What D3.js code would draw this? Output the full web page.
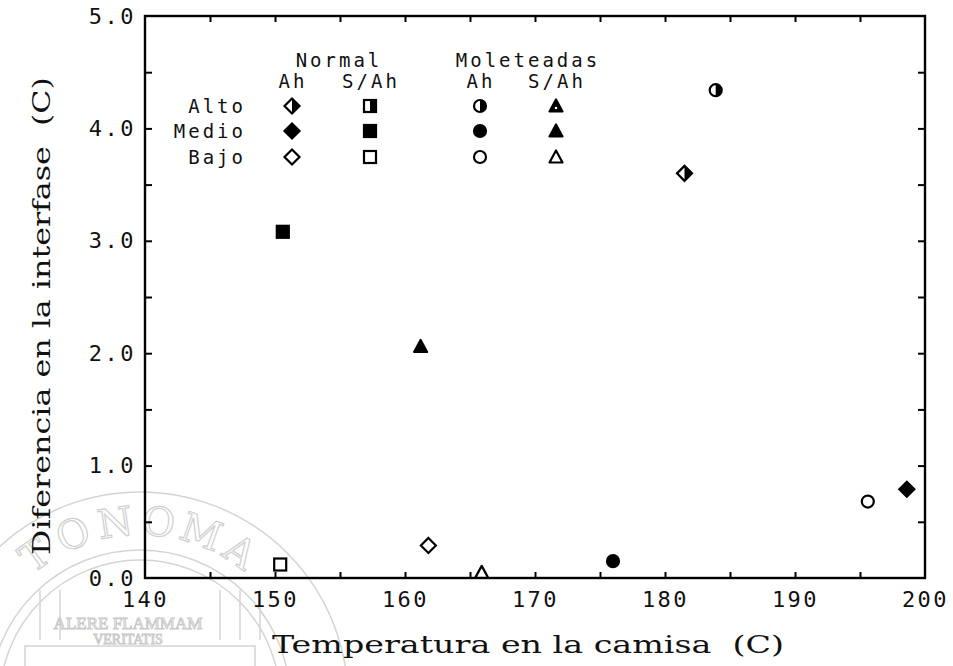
<!DOCTYPE html>
<html><head><meta charset="utf-8">
<script src="https://cdn.jsdelivr.net/npm/d3@7"></script>
<style>body{margin:0;background:#fff}</style></head>
<body><svg id="c" width="953" height="666"></svg>
<script>
// ---------- data ----------
const xLabelTicks = [140, 150, 160, 170, 180, 190, 200];
const xFrameTicks = [145, 150, 155, 160, 165, 170, 175, 180, 185, 190, 195];
const yLabelTicks = [0, 1, 2, 3, 4, 5];
const yFrameTicks = [0.5, 1, 1.5, 2, 2.5, 3, 3.5, 4, 4.5];
const groups = ["Normal", "Moleteadas"];
const subgroups = ["Ah", "S/Ah", "Ah", "S/Ah"];
const columns = ["Normal Ah", "Normal S/Ah", "Moleteadas Ah", "Moleteadas S/Ah"];
const levels = ["Alto", "Medio", "Bajo"];
const pointColumn = ["Normal S/Ah", "Moleteadas S/Ah", "Normal Ah", "Normal S/Ah", "Moleteadas S/Ah", "Moleteadas Ah", "Normal Ah", "Moleteadas Ah", "Moleteadas Ah", "Normal Ah", "Moleteadas Ah"];
const pointLevel  = ["Medio", "Medio", "Bajo", "Bajo", "Bajo", "Medio", "Alto", "Alto", "Bajo", "Medio", "Bajo"];
const pointX = [150.6, 161.2, 161.8, 150.4, 165.9, 176.0, 181.5, 183.9, 195.6, 198.6, 200.55];
const pointY = [3.08, 2.06, 0.29, 0.12, 0.05, 0.15, 3.60, 4.34, 0.68, 0.79, 0.74];
const xTitle = "Temperatura en la camisa  (C)";
const yTitle = "Diferencia en la interfase  (C)";

// ---------- layout ----------
const svg = d3.select("#c");
const L = 145, R = 925, T = 16, B = 578;
const x = d3.scaleLinear().domain([140, 200]).range([L, R]);
const y = d3.scaleLinear().domain([0, 5]).range([B, T]);
const shapeOf = d3.scaleOrdinal().domain(columns).range(["diamond", "square", "circle", "triangle"]);
const fillOf = d3.scaleOrdinal().domain(levels).range(["half", "full", "open"]);

// ---------- watermark ----------
const wm = svg.append("g").attr("fill", "none").attr("stroke", "#d4d4d4").attr("stroke-width", 1.5);
const cx0 = 140, cy0 = 700;
wm.append("circle").attr("cx", cx0).attr("cy", cy0).attr("r", 208);
wm.append("circle").attr("cx", cx0).attr("cy", cy0).attr("r", 150);
wm.append("circle").attr("cx", cx0).attr("cy", cy0).attr("r", 140);
[-100, -80, 80, 100, 120].forEach(dx => wm.append("line").attr("x1", cx0 + dx).attr("x2", cx0 + dx)
  .attr("y1", 590).attr("y2", 640));
wm.append("rect").attr("x", 25).attr("y", 646).attr("width", 230).attr("height", 36);
const arcText = "TONOMA";
const arcAngles = [-36, -22, -8, 6, 20, 34];
arcText.split("").forEach((ch, i) => {
  const a = arcAngles[i] * Math.PI / 180;
  const px = cx0 + 175 * Math.sin(a), py = cy0 - 175 * Math.cos(a);
  svg.append("text").attr("x", px).attr("y", py)
    .attr("transform", `rotate(${arcAngles[i]},${px},${py})`)
    .attr("text-anchor", "middle").attr("dominant-baseline", "middle")
    .attr("font-family", "DejaVu Serif").attr("font-size", 40).attr("fill", "none")
    .attr("stroke", "#cfcfcf").attr("stroke-width", 1.2).text(ch);
});
svg.append("text").attr("x", 128).attr("y", 629).attr("text-anchor", "middle")
  .attr("font-family", "Liberation Serif").attr("font-size", 17).attr("fill", "none")
  .attr("stroke", "#c8c8c8").attr("stroke-width", 1).text("ALERE FLAMMAM");
svg.append("text").attr("x", 128).attr("y", 644).attr("text-anchor", "middle")
  .attr("font-family", "Liberation Serif").attr("font-size", 14).attr("fill", "none")
  .attr("stroke", "#c8c8c8").attr("stroke-width", 1).text("VERITATIS");

// ---------- frame and ticks ----------
function frameAxis(g) { g.select(".domain").remove(); g.selectAll("line").attr("stroke", "#000").attr("stroke-width", 2); }
svg.append("g").attr("transform", `translate(0,${B})`)
  .call(d3.axisBottom(x).tickValues(xFrameTicks).tickSize(-6).tickFormat("")).call(frameAxis);
svg.append("g").attr("transform", `translate(0,${T})`)
  .call(d3.axisTop(x).tickValues(xFrameTicks).tickSize(-6).tickFormat("")).call(frameAxis);
svg.append("g").attr("transform", `translate(${L},0)`)
  .call(d3.axisLeft(y).tickValues(yFrameTicks).tickSize(-7).tickFormat("")).call(frameAxis);
svg.append("g").attr("transform", `translate(${R},0)`)
  .call(d3.axisRight(y).tickValues(yFrameTicks).tickSize(-7).tickFormat("")).call(frameAxis);
svg.append("rect").attr("x", L).attr("y", T).attr("width", R - L).attr("height", B - T)
  .attr("fill", "none").attr("stroke", "#000").attr("stroke-width", 2.4);

// ---------- tick labels ----------
const labFont = g => { g.select(".domain").remove(); g.selectAll("text").attr("font-family", "DejaVu Sans Mono")
  .attr("font-size", 22).attr("letter-spacing", "2.5px").attr("fill", "#111"); };
svg.append("g").attr("transform", `translate(0,${B})`)
  .call(d3.axisBottom(x).tickValues(xLabelTicks).tickSize(0).tickPadding(13).tickFormat(d3.format("d"))).call(labFont);
svg.append("g").attr("transform", `translate(${L},0)`)
  .call(d3.axisLeft(y).tickValues(yLabelTicks).tickSize(0).tickPadding(9).tickFormat(d3.format(".1f"))).call(labFont);

// ---------- axis titles ----------
svg.append("text").attr("x", 528).attr("y", 653).attr("text-anchor", "middle").style("white-space", "pre")
  .attr("font-family", "DejaVu Serif").attr("font-size", 25).attr("fill", "#111")
  .attr("textLength", 512).attr("lengthAdjust", "spacingAndGlyphs").text(xTitle);
svg.append("text").attr("transform", "translate(50,316) rotate(-90)").attr("text-anchor", "middle").style("white-space", "pre")
  .attr("font-family", "DejaVu Serif").attr("font-size", 25).attr("fill", "#111")
  .attr("textLength", 478).attr("lengthAdjust", "spacingAndGlyphs").text(yTitle);

// ---------- markers ----------
function drawMarker(g, shape, fill) {
  const sw = 2.2;
  const base = { stroke: "#000", "stroke-width": sw, fill: fill === "full" ? "#000" : "#fff" };
  const apply = (sel, attrs) => { Object.entries(attrs).forEach(([k, v]) => sel.attr(k, v)); return sel; };
  if (shape === "diamond") {
    const r = 7.5;
    apply(g.append("path").attr("d", `M0,${-r}L${r},0L0,${r}L${-r},0Z`), base);
    if (fill === "half") g.append("path").attr("d", `M0,${-r}L${r},0L0,${r}Z`).attr("fill", "#000");
  } else if (shape === "square") {
    const s = 6;
    apply(g.append("rect").attr("x", -s).attr("y", -s).attr("width", 2 * s).attr("height", 2 * s), base);
    if (fill === "half") g.append("rect").attr("x", 0).attr("y", -s).attr("width", s).attr("height", 2 * s).attr("fill", "#000");
  } else if (shape === "circle") {
    const r = 6;
    apply(g.append("circle").attr("r", r), base);
    if (fill === "half") g.append("path").attr("d", `M0,${-r}A${r},${r} 0 0 1 0,${r}Z`).attr("fill", "#000");
  } else {
    apply(g.append("path").attr("d", "M0,-6.5L6.5,5.5L-6.5,5.5Z").attr("stroke-linejoin", "round"), base);
    if (fill === "half") { g.select("path").attr("fill", "#000"); g.append("circle").attr("cy", 2).attr("r", 1.3).attr("fill", "#fff"); }
  }
}

// plotted points (clipped to the frame)
svg.append("clipPath").attr("id", "clip").append("rect")
  .attr("x", L - 1).attr("y", T).attr("width", R - L + 1).attr("height", B - T);
const pts = svg.append("g").attr("clip-path", "url(#clip)");
pointX.forEach((v, i) => {
  const g = pts.append("g").attr("transform", `translate(${x(v)},${y(pointY[i])})`);
  drawMarker(g, shapeOf(pointColumn[i]), fillOf(pointLevel[i]));
});

// ---------- legend ----------
const legFont = sel => sel.attr("font-family", "DejaVu Sans Mono").attr("font-size", 19)
  .attr("letter-spacing", "3px").attr("fill", "#111");
const colX = [292, 370, 480, 556];
const rowY = [106, 131, 157];
const groupX = [339, 528];
groups.forEach((gname, i) => svg.append("text").attr("x", groupX[i]).attr("y", 67)
  .attr("text-anchor", "middle").call(legFont).text(gname));
subgroups.forEach((s, i) => svg.append("text").attr("x", colX[i] + 1).attr("y", 88)
  .attr("text-anchor", "middle").call(legFont).text(s));
levels.forEach((lv, j) => {
  svg.append("text").attr("x", 246).attr("y", rowY[j] + 7).attr("text-anchor", "end").call(legFont).text(lv);
  columns.forEach((c, i) => {
    const g = svg.append("g").attr("transform", `translate(${colX[i]},${rowY[j]})`);
    drawMarker(g, shapeOf(c), fillOf(lv));
  });
});
</script></body></html>
